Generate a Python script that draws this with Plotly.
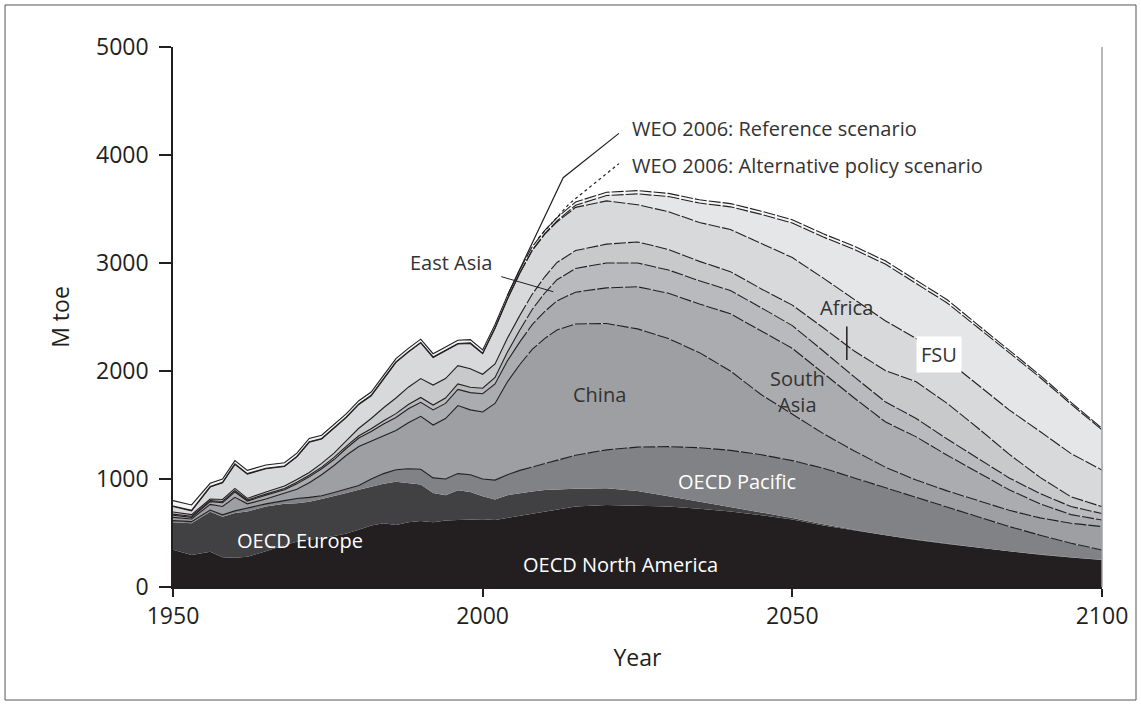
import plotly.graph_objects as go

# ---------------- data (Mtoe) ----------------
years = [1950, 1953, 1956, 1958, 1960, 1962, 1965, 1968, 1970, 1972, 1974, 1976, 1978, 1980,
         1982, 1984, 1986, 1988, 1990, 1992, 1994, 1996, 1998, 2000, 2002, 2004, 2006, 2008,
         2010, 2012, 2015, 2020, 2025, 2030, 2035, 2040, 2045, 2050, 2055, 2060, 2065, 2070,
         2075, 2080, 2085, 2090, 2095, 2100]

oecd_north_america = [345, 296, 327, 275, 270, 280, 330, 390, 420, 440, 450, 470, 495, 530,
                      570, 590, 575, 600, 610, 600, 615, 620, 625, 627, 620, 640, 660, 680,
                      697, 720, 745, 759, 755, 745, 725, 700, 665, 625, 570, 525, 475, 435,
                      398, 363, 328, 298, 273, 250]
oecd_europe = [255, 294, 370, 375, 415, 420, 415, 380, 355, 350, 365, 370, 375, 370,
               360, 365, 400, 365, 340, 270, 235, 275, 255, 213, 190, 210, 210, 205,
               201, 185, 165, 155, 135, 95, 65, 40, 25, 15, 10, 5, 5, 5,
               2, 2, 2, 2, 2, 2]
oecd_pacific = [15, 15, 15, 18, 20, 30, 25, 30, 45, 40, 30, 35, 35, 40,
                70, 95, 110, 130, 140, 140, 150, 155, 160, 160, 180, 190, 210, 225,
                242, 265, 310, 356, 405, 460, 500, 525, 535, 530, 520, 480, 440, 390,
                340, 285, 230, 180, 130, 91]
china = [30, 25, 53, 77, 125, 40, 45, 65, 85, 135, 195, 250, 315, 360,
         350, 350, 365, 425, 490, 490, 560, 630, 600, 620, 710, 860, 980, 1090,
         1160, 1210, 1215, 1170, 1095, 1000, 880, 735, 555, 430, 320, 250, 190, 160,
         150, 150, 150, 160, 185, 217]
south_asia = [20, 15, 25, 35, 50, 25, 35, 35, 50, 55, 55, 55, 65, 80,
              90, 110, 120, 130, 130, 140, 140, 150, 160, 170, 180, 195, 210, 230,
              250, 270, 295, 330, 390, 420, 450, 530, 590, 610, 560, 490, 420, 400,
              330, 260, 190, 130, 80, 60]
east_asia = [10, 10, 10, 12, 13, 10, 10, 12, 15, 15, 15, 20, 20, 20,
             25, 30, 35, 40, 45, 45, 50, 50, 50, 50, 60, 80, 110, 140,
             170, 195, 220, 230, 220, 215, 215, 215, 215, 210, 205, 195, 185, 170,
             150, 130, 110, 95, 75, 60]
africa = [20, 15, 15, 18, 20, 15, 20, 23, 25, 25, 35, 40, 50, 70,
          95, 120, 145, 160, 175, 185, 180, 170, 170, 130, 125, 130, 135, 140,
          150, 160, 165, 175, 195, 190, 180, 175, 175, 190, 215, 240, 290, 340,
          330, 280, 220, 150, 90, 64]
fsu = [50, 35, 110, 155, 222, 225, 215, 180, 210, 280, 225, 230, 215, 220,
       210, 265, 330, 325, 330, 255, 260, 200, 235, 190, 330, 360, 390, 405,
       395, 375, 400, 400, 345, 350, 360, 390, 420, 440, 460, 480, 460, 400,
       400, 400, 410, 425, 400, 339]
latin_america = [5, 5, 5, 5, 5, 5, 5, 5, 5, 5, 5, 5, 5, 5,
                 5, 5, 5, 5, 5, 5, 5, 5, 5, 5, 5, 5, 5, 5,
                 5, 10, 20, 50, 100, 140, 180, 210, 270, 320, 380, 460, 525, 513,
                 530, 530, 530, 500, 458, 372]
middle_east = [50, 50, 30, 30, 30, 30, 30, 30, 30, 30, 30, 30, 30, 30,
               30, 30, 30, 30, 30, 30, 30, 30, 30, 30, 30, 30, 30, 30,
               30, 30, 30, 30, 30, 30, 30, 30, 30, 30, 30, 30, 30, 30,
               30, 25, 25, 20, 17, 14]

weo_ref_years = [2004, 2013, 2022]
weo_ref_values = [2700, 3790, 4200]
weo_alt_years = [2009, 2014, 2022]
weo_alt_values = [3230, 3550, 3920]

x_ticks = [1950, 2000, 2050, 2100]
y_ticks = [0, 1000, 2000, 3000, 4000, 5000]

# ---------------- styling ----------------
layers = [
    ("OECD North America", oecd_north_america, "#231f20", False),
    ("OECD Europe", oecd_europe, "#414042", False),
    ("OECD Pacific", oecd_pacific, "#808285", True),
    ("China", china, "#9d9fa2", True),
    ("South Asia", south_asia, "#aaacaf", True),
    ("East Asia", east_asia, "#b9babd", True),
    ("Africa", africa, "#c8c9cb", True),
    ("FSU", fsu, "#d8d9db", True),
    ("Latin America", latin_america, "#e5e6e7", True),
    ("Middle East", middle_east, "#f4f4f4", True),
]

FONT = "Open Sans"
INK = "#231f20"
split = years.index(2006)

fig = go.Figure()

# filled stacked areas
for name, vals, col, _ in layers:
    fig.add_trace(go.Scatter(
        x=years, y=vals, name=name, stackgroup="area", mode="lines",
        line=dict(width=0, color=col), fillcolor=col, hoverinfo="skip"))

# boundary lines: solid for history, dashed for projection
for grp, sl, dash in (("hist", slice(0, split + 1), "solid"),
                      ("proj", slice(split, None), "12px,2px")):
    for name, vals, col, draw in layers:
        fig.add_trace(go.Scatter(
            x=years[sl], y=vals[sl], stackgroup=grp, fill="none", mode="lines",
            line=dict(width=1.1 if draw else 0, color=INK, dash=dash),
            hoverinfo="skip", showlegend=False))

# WEO 2006 scenarios
fig.add_trace(go.Scatter(x=weo_ref_years, y=weo_ref_values, mode="lines",
                         line=dict(color=INK, width=1.2), hoverinfo="skip"))
fig.add_trace(go.Scatter(x=weo_alt_years, y=weo_alt_values, mode="lines",
                         line=dict(color=INK, width=1.2, dash="dot"), hoverinfo="skip"))

dark = dict(family=FONT, size=20, color="#333333")
white = dict(family=FONT, size=20, color="#ffffff")

annots = [
    dict(x=2023.8, y=4250, text="WEO 2006: Reference scenario", xanchor="left", font=dark),
    dict(x=2023.8, y=3907, text="WEO 2006: Alternative policy scenario", xanchor="left", font=dark),
    dict(x=2018.8, y=1778, text="China", font=dark),
    dict(x=2050.9, y=1810, text="South<br>Asia", font=dark),
    dict(x=2073.6, y=2156, text="FSU", font=dark, bgcolor="#ffffff", borderpad=4),
    dict(x=2041.0, y=975, text="OECD Pacific", font=white),
    dict(x=1970.5, y=428, text="OECD Europe", font=white),
    dict(x=2022.2, y=204, text="OECD North America", font=white),
]
for a in annots:
    a.update(xref="x", yref="y", showarrow=False)
fig.update_layout(annotations=annots)

# labels with pointers
fig.add_annotation(x=2011.4, y=2734, ax=1994.9, ay=3009, axref="x", ayref="y",
                   xref="x", yref="y", text="East Asia", font=dark, showarrow=True,
                   arrowhead=0, arrowwidth=1, arrowcolor=INK, startstandoff=8)
fig.add_annotation(x=2058.8, y=2102, ax=2058.8, ay=2588, axref="x", ayref="y",
                   xref="x", yref="y", text="Africa", font=dark, showarrow=True,
                   arrowhead=0, arrowwidth=1.5, arrowcolor=INK, startstandoff=4)

# frame decorations
fig.add_shape(type="line", xref="paper", yref="paper", x0=1, x1=1, y0=0, y1=1,
              line=dict(color="#a0a0a0", width=1.5))
fig.add_shape(type="rect", xref="paper", yref="paper", x0=-0.1808, x1=1.0366,
              y0=-0.2093, y1=1.0778, line=dict(color="#555555", width=1))

fig.update_layout(
    width=1141, height=706,
    margin=dict(l=173, r=39, t=47, b=119),
    paper_bgcolor="white", plot_bgcolor="white",
    showlegend=False, hovermode=False,
    font=dict(family=FONT, color=INK),
)
fig.update_xaxes(range=[1950, 2100], tickvals=x_ticks, ticks="outside", ticklen=8,
                 tickwidth=1.5, tickcolor=INK, showline=True, linecolor=INK, linewidth=1.5,
                 showgrid=False, zeroline=False, tickfont=dict(size=23, color=INK),
                 title=dict(text="Year", font=dict(size=23, color=INK), standoff=20))
fig.update_yaxes(range=[0, 5000], tickvals=y_ticks, ticks="outside", ticklen=12,
                 tickwidth=1.5, tickcolor=INK, showline=True, linecolor=INK, linewidth=1.5,
                 showgrid=False, zeroline=False, tickfont=dict(size=23, color=INK),
                 ticklabelstandoff=6,
                 title=dict(text="M toe", font=dict(size=23, color=INK), standoff=20))

fig.write_html("out.html")
